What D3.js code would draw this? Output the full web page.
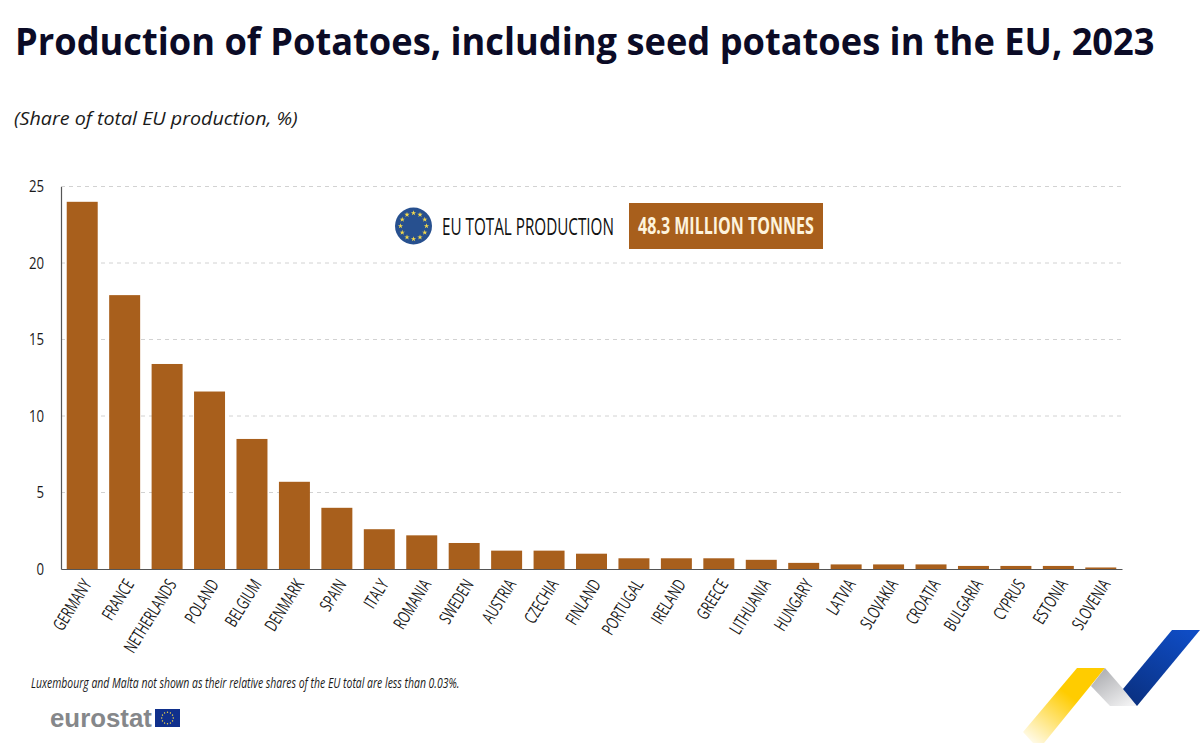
<!DOCTYPE html>
<html>
<head>
<meta charset="utf-8">
<script src="https://cdn.jsdelivr.net/npm/d3@7/dist/d3.min.js"></script>
<style>
  html, body { margin: 0; padding: 0; background: #fff; }
  svg { display: block; }
  text { font-family: "Open Sans", sans-serif; }
</style>
</head>
<body>
<svg id="chart" width="1200" height="743"></svg>
<script>
const countries = ["GERMANY", "FRANCE", "NETHERLANDS", "POLAND", "BELGIUM", "DENMARK", "SPAIN", "ITALY", "ROMANIA", "SWEDEN", "AUSTRIA", "CZECHIA", "FINLAND", "PORTUGAL", "IRELAND", "GREECE", "LITHUANIA", "HUNGARY", "LATVIA", "SLOVAKIA", "CROATIA", "BULGARIA", "CYPRUS", "ESTONIA", "SLOVENIA"];
const shares = [24, 17.9, 13.4, 11.6, 8.5, 5.7, 4, 2.6, 2.2, 1.7, 1.2, 1.2, 1, 0.7, 0.7, 0.7, 0.6, 0.4, 0.3, 0.3, 0.3, 0.2, 0.2, 0.2, 0.1];
const yTicks = [0, 5, 10, 15, 20, 25];

const brown = "#a85f1c";
const svg = d3.select("#chart");

const x = d3.scaleBand().domain(countries).range([61, 1122]).paddingInner(0.27).paddingOuter(0.135);
const y = d3.scaleLinear().domain([0, 25]).range([569, 186.5]);

// text squeezed horizontally with a transform, the original uses a condensed face
function label(sel, px, py, str, size, width, opts) {
  opts = opts || {};
  const t = sel.append("text")
    .attr("font-size", size)
    .attr("font-weight", opts.weight || 400)
    .attr("font-style", opts.style || "normal")
    .attr("fill", opts.fill || "#1a1a1a")
    .text(str);
  if (opts.family) t.style("font-family", opts.family);
  const natural = t.node().getComputedTextLength();
  t.attr("transform", "translate(" + px + "," + py + ") scale(" + (width / natural) + ",1)");
  return t;
}

label(svg, 15, 55, "Production of Potatoes, including seed potatoes in the EU, 2023", 37, 1140, { weight: 700, fill: "#0b0b26" });
label(svg, 14, 125, "(Share of total EU production, %)", 19, 284, { style: "italic" });

// gridlines
svg.append("g").selectAll("line")
  .data(yTicks.filter(d => d > 0))
  .join("line")
  .attr("x1", 61).attr("x2", 1122)
  .attr("y1", d => y(d)).attr("y2", d => y(d))
  .attr("stroke", "#d2d2d2")
  .attr("stroke-dasharray", "4 4");

// bars
svg.append("g").selectAll("rect")
  .data(countries)
  .join("rect")
  .attr("x", d => x(d))
  .attr("width", x.bandwidth())
  .attr("y", (d, i) => y(shares[i]))
  .attr("height", (d, i) => y(0) - y(shares[i]))
  .attr("fill", brown);

// y axis
const yAxis = svg.append("g")
  .attr("transform", "translate(61,0)")
  .call(d3.axisLeft(y).tickValues(yTicks).tickSize(0).tickPadding(0));
yAxis.select(".domain").attr("stroke", "#555").attr("stroke-width", 1.2);
yAxis.selectAll("text")
  .attr("font-size", 16.5)
  .attr("fill", "#1a1a1a")
  .attr("x", 0)
  .attr("transform", "translate(-17,0) scale(0.8,1)");

// x axis
const xAxis = svg.append("g")
  .attr("transform", "translate(0,569)")
  .call(d3.axisBottom(x).tickSize(0).tickPadding(0));
xAxis.select(".domain").attr("stroke", "#555").attr("stroke-width", 1.2);
xAxis.selectAll("text")
  .attr("font-size", 17.5)
  .attr("fill", "#1a1a1a")
  .attr("text-anchor", "end")
  .attr("dy", 0)
  .attr("y", 0)
  .attr("transform", "translate(5,12) rotate(-58) translate(0,6) scale(0.68,1)");

// EU total box
const defs = svg.append("defs");
const flagGroup = svg.append("g").attr("transform", "translate(413.5,226)");
flagGroup.append("circle").attr("r", 18.5).attr("fill", "#27508f");
const starAngles = d3.range(12).map(d => d * 30);
flagGroup.selectAll("path")
  .data(starAngles)
  .join("path")
  .attr("d", d3.symbol(d3.symbolStar, 9))
  .attr("fill", "#f4d94a")
  .attr("transform", d => "rotate(" + d + ") translate(0,-13) rotate(" + (-d) + ")");

label(svg, 442, 235, "EU TOTAL PRODUCTION", 24, 172, { fill: "#111" });
svg.append("rect").attr("x", 629).attr("y", 203).attr("width", 194).attr("height", 46).attr("fill", brown);
label(svg, 638, 234, "48.3 MILLION TONNES", 23, 176, { weight: 700, fill: "#fdf3dc" });

// footnote
label(svg, 31, 688, "Luxembourg and Malta not shown as their relative shares of the EU total are less than 0.03%.", 15, 429, { style: "italic" });

// eurostat logo
label(svg, 50, 727, "eurostat", 26, 102, { weight: 700, fill: "#85878a", family: "'Liberation Sans', sans-serif" });
const logoFlag = svg.append("g").attr("transform", "translate(155,709)");
logoFlag.append("rect").attr("width", 25).attr("height", 18).attr("fill", "#10308c");
logoFlag.append("g").attr("transform", "translate(12.5,9)").selectAll("circle")
  .data(starAngles)
  .join("circle")
  .attr("r", 0.7)
  .attr("fill", "#f4d94a")
  .attr("transform", d => "rotate(" + d + ") translate(0,-5.8)");

// ribbon decoration
const gradYellow = defs.append("linearGradient").attr("id", "ribbon-yellow")
  .attr("x1", 0).attr("y1", 1).attr("x2", 0.55).attr("y2", 0.35);
gradYellow.append("stop").attr("offset", 0).attr("stop-color", "#ffcc00").attr("stop-opacity", 0);
gradYellow.append("stop").attr("offset", 1).attr("stop-color", "#ffcc00");
const gradGrey = defs.append("linearGradient").attr("id", "ribbon-grey")
  .attr("x1", 0).attr("y1", 0).attr("x2", 0.8).attr("y2", 1);
gradGrey.append("stop").attr("offset", 0).attr("stop-color", "#a4a5a9");
gradGrey.append("stop").attr("offset", 1).attr("stop-color", "#f2f2f3");
const gradBlue = defs.append("linearGradient").attr("id", "ribbon-blue")
  .attr("x1", 0.8).attr("y1", 0).attr("x2", 0.2).attr("y2", 1);
gradBlue.append("stop").attr("offset", 0).attr("stop-color", "#0f4cc4");
gradBlue.append("stop").attr("offset", 1).attr("stop-color", "#0a3182");

const ribbon = svg.append("g");
ribbon.append("path").attr("d", "M1023,732 L1077,668 L1105,668 L1044,743 L1033,743 Z").attr("fill", "url(#ribbon-yellow)");
ribbon.append("path").attr("d", "M1105,668 L1138,706 L1110,706 L1091,686 Z").attr("fill", "url(#ribbon-grey)");
ribbon.append("path").attr("d", "M1172,630 L1200,630 L1137,706 L1123,689 Z").attr("fill", "url(#ribbon-blue)");
</script>
</body>
</html>
